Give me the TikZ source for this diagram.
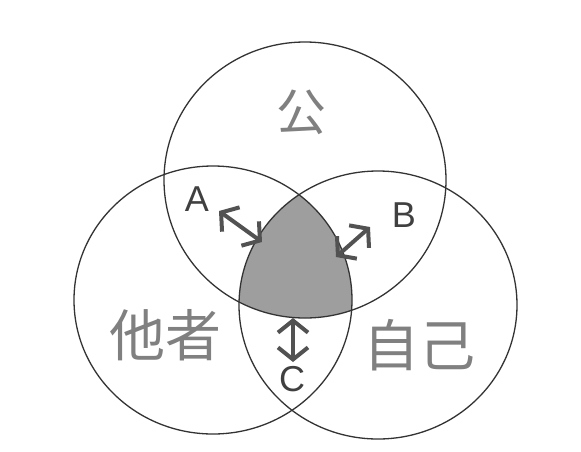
\documentclass[tikz,border=0pt]{standalone}
\usepackage{fontspec}
\setmainfont{Liberation Sans}
\newfontfamily\jpfont{Noto Sans CJK JP}
\usetikzlibrary{arrows.meta}
\begin{document}
\begin{tikzpicture}[x=1pt,y=-1pt,
  ring/.style={draw=black!80, line width=1.3pt},
  cjk/.style={text=black!50, font=\jpfont\fontsize{56}{56}\selectfont, inner sep=0pt},
  lab/.style={text=black!75, font=\fontsize{36}{36}\selectfont, inner sep=0pt},
  barb/.tip={Straight Barb[length=12pt,width=30pt]},
  dbl/.style={draw=black!68, line width=4pt, barb-barb}
]
\useasboundingbox (0,0) rectangle (581,451);
\fill[white] (0,0) rectangle (581,451);
% shaded common part
\begin{scope}
  \clip (305,180) ellipse [x radius=141, y radius=138];
  \clip (213,300) ellipse [x radius=139, y radius=134];
  \fill[black!38] (378,305) ellipse [x radius=139, y radius=134];
\end{scope}
% circles
\draw[ring] (305,180) ellipse [x radius=141, y radius=138];
\draw[ring] (213,300) ellipse [x radius=139, y radius=134];
\draw[ring] (378,305) ellipse [x radius=139, y radius=134];
% texts
\node[cjk, font=\jpfont\fontsize{50}{50}\selectfont] (gong) at (301,112) {公};
\node[cjk] (tasha) at (165,335) {他者};
\node[cjk] (jiko) at (419,345) {自己};
\node[lab] (la) at (197,199) {A};
\node[lab] (lb) at (404,215) {B};
\node[lab] (lc) at (292,379) {C};
% arrows
\coordinate (a1) at (219,211);
\coordinate (a2) at (262,242);
\coordinate (b1) at (336,257);
\coordinate (b2) at (370,227);
\coordinate (c1) at (293,318);
\coordinate (c2) at (293,362);
\draw[dbl] (a1) -- (a2);
\draw[dbl] (b1) -- (b2);
\draw[dbl] (c1) -- (c2);
\end{tikzpicture}
\end{document}
